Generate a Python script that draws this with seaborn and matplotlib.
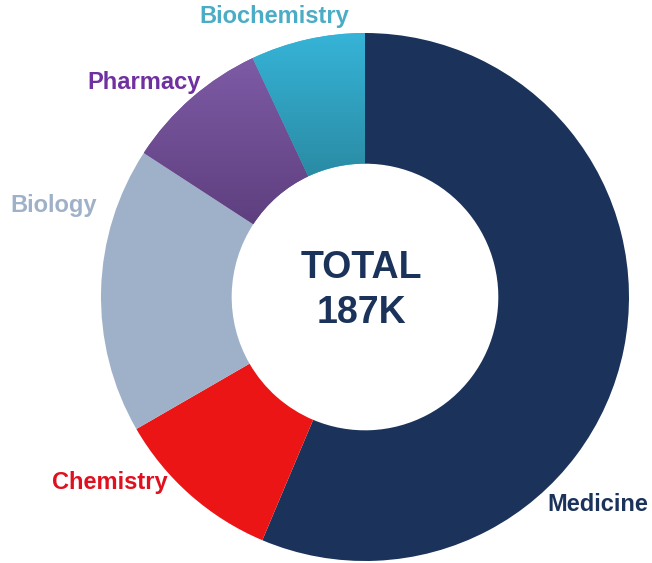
import numpy as np
import matplotlib
matplotlib.use("Agg")
import matplotlib.pyplot as plt
from matplotlib.colors import LinearSegmentedColormap
import seaborn as sns

# Data (thousands), clockwise from 12 o'clock
categories = ["Medicine", "Chemistry", "Biology", "Pharmacy", "Biochemistry"]
values = [105.5, 19.3, 32.8, 16.5, 13.1]
total_label = "TOTAL\n187K"

# wedge colours: (top, bottom) - equal pair means flat fill
wedge_colors = [("#1B335A", "#1B335A"), ("#EC1515", "#EC1515"), ("#9FB1C9", "#9FB1C9"),
                ("#7E5BA6", "#5E3F7E"), ("#36B4D8", "#2A8BA4")]
label_colors = ["#1B335A", "#E0101E", "#9FB1C9", "#7030A0", "#4BACC6"]
# label anchors (in units of the outer radius)
label_pos = [(0.88, -0.787), (-0.965, -0.703), (-1.18, 0.347), (-0.835, 0.812), (-0.345, 1.064)]

sns.set_theme(style="white")
plt.rcParams["font.family"] = ["Liberation Sans", "DejaVu Sans"]

fig = plt.figure(figsize=(6.52, 5.63), dpi=100)
ax = fig.add_axes([0, 0, 1, 1])

wedges, _ = ax.pie(values, radius=1, startangle=90, counterclock=False,
                   colors=[c[0] for c in wedge_colors],
                   wedgeprops=dict(width=0.495, linewidth=0))

# vertical gradients for the two small wedges
for w, (top, bot) in zip(wedges, wedge_colors):
    if top == bot:
        continue
    cmap = LinearSegmentedColormap.from_list("g", [bot, top])
    bb = w.get_path().get_extents(w.get_patch_transform())
    grad = np.linspace(0, 1, 256).reshape(-1, 1)
    im = ax.imshow(grad, cmap=cmap, origin="lower", aspect="auto",
                   extent=[bb.x0, bb.x1, bb.y0, bb.y1], zorder=w.get_zorder() + 0.1)
    im.set_clip_path(w)

for name, col, (lx, ly) in zip(categories, label_colors, label_pos):
    ax.text(lx, ly, name, color=col, fontsize=17, fontweight="bold",
            ha="center", va="center")

ax.text(-0.015, 0.025, total_label, color="#1B335A", fontsize=27, fontweight="bold",
        ha="center", va="center", linespacing=1.3)

scale = 264.0
cx, cy = 365.0, 297.0
ax.set_xlim(-cx / scale, (652 - cx) / scale)
ax.set_ylim(-(563 - cy) / scale, cy / scale)
ax.set_aspect("auto")
ax.axis("off")

fig.savefig("out.png", dpi=100)
